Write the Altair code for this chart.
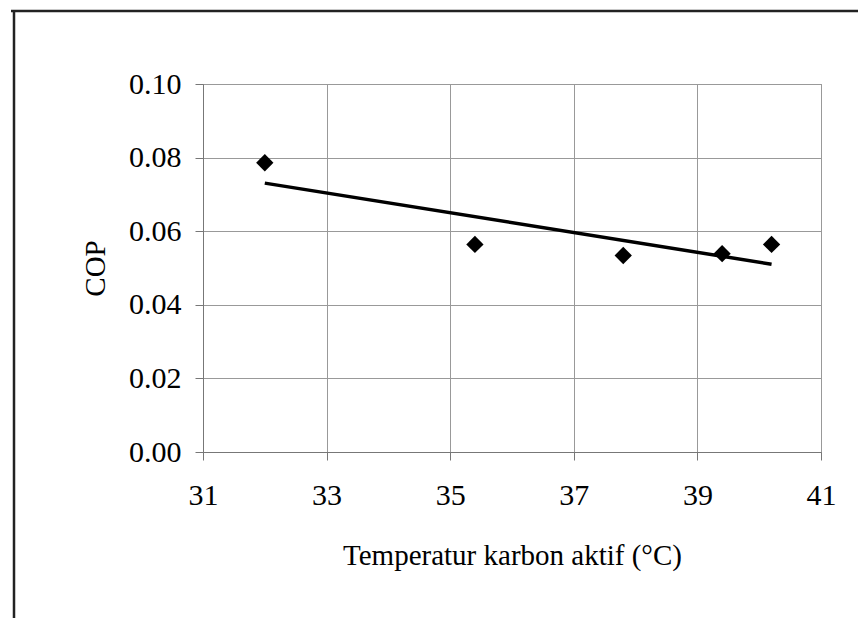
import altair as alt
import pandas as pd

temperature = [32.0, 35.4, 37.8, 39.4, 40.2]
cop = [0.0786, 0.0564, 0.0534, 0.0539, 0.0564]
x_ticks = [31, 33, 35, 37, 39, 41]
y_ticks = [0.00, 0.02, 0.04, 0.06, 0.08, 0.10]

df = pd.DataFrame({"T": temperature, "COP": cop})

FONT = "Liberation Serif"

x_enc = alt.X("T:Q", scale=alt.Scale(domain=[31, 41], nice=False, zero=False),
              axis=alt.Axis(values=x_ticks, format="d", title="Temperatur karbon aktif (°C)"))
y_enc = alt.Y("COP:Q", scale=alt.Scale(domain=[0, 0.10], nice=False),
              axis=alt.Axis(values=y_ticks, format=".2f", title="COP"))

base = alt.Chart(df)

points = base.mark_point(shape="diamond", filled=True, color="black", size=300, opacity=1).encode(x=x_enc, y=y_enc)

trend = base.transform_regression("T", "COP").mark_line(color="black", strokeWidth=3.5, clip=False).encode(x=x_enc, y=y_enc)

frame_top = alt.Chart(pd.DataFrame({"d": [0]})).mark_rule(color="#222", strokeWidth=2.5, clip=False).encode(
    x=alt.value(-192), x2=alt.value(680), y=alt.value(-73))
frame_left = alt.Chart(pd.DataFrame({"d": [0]})).mark_rule(color="#222", strokeWidth=2.5, clip=False).encode(
    x=alt.value(-189), y=alt.value(-73), y2=alt.value(560))

chart = alt.layer(frame_top, frame_left, trend, points).properties(
    width=618, height=368,
    padding={"left": 195, "top": 76, "right": 37, "bottom": 166},
    autosize=alt.AutoSizeParams(type="none"),
    background="white",
).configure_view(
    stroke="#888", strokeWidth=1
).configure_axis(
    labelFont=FONT, titleFont=FONT, labelFontSize=30, titleFontSize=29,
    labelColor="black", titleColor="black", titleFontWeight="normal",
    gridColor="#999", gridWidth=1, gridOpacity=1,
    domainColor="#777", tickColor="#777", tickSize=8,
    labelFlush=False,
).configure_axisX(
    labelPadding=20, titlePadding=31, labelAngle=0
).configure_axisY(
    labelPadding=14, titlePadding=18
)

chart.save("out.html", embed_options={"renderer": "svg", "actions": False})
